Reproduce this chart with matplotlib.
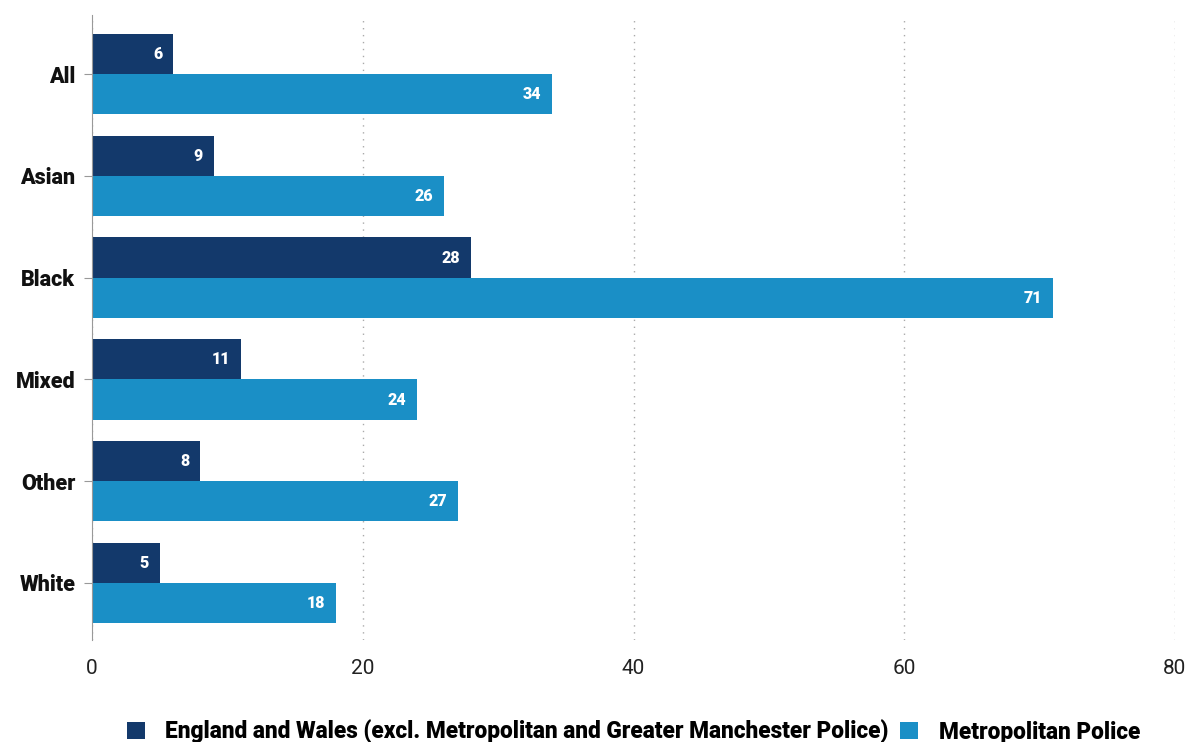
import matplotlib.pyplot as plt
import numpy as np

categories = ["All", "Asian", "Black", "Mixed", "Other", "White"]
england_wales = [6, 9, 28, 11, 8, 5]
met_police = [34, 26, 71, 24, 27, 18]
series_names = [
    "England and Wales (excl. Metropolitan and Greater Manchester Police)",
    "Metropolitan Police",
]
x_ticks = [0, 20, 40, 60, 80]

DARK = "#13396B"
LIGHT = "#1A8FC6"


def main():
    plt.rcParams["font.family"] = ["Roboto", "DejaVu Sans"]

    fig = plt.figure(figsize=(11.89, 7.42), dpi=100)
    ax = fig.add_axes([92 / 1189, 1 - 640 / 742, (1175 - 92) / 1189, (640 - 15) / 742])

    y = np.arange(len(categories))
    h = 0.395
    b1 = ax.barh(y - h / 2, england_wales, height=h, color=DARK, label=series_names[0])
    b2 = ax.barh(y + h / 2, met_police, height=h, color=LIGHT, label=series_names[1])

    # value labels inside bar ends
    for bars in (b1, b2):
        for rect in bars:
            w = rect.get_width()
            ax.text(w - 0.8, rect.get_y() + rect.get_height() / 2, f"{w:g}",
                    ha="right", va="center", color="white", fontsize=11.5,
                    fontweight="heavy")

    ax.set_xlim(0, 80)
    ax.set_ylim(5.56, -0.58)
    ax.set_xticks(x_ticks)
    ax.set_xticklabels([str(t) for t in x_ticks], fontsize=15, color="#222222")
    ax.set_yticks(y)
    ax.set_yticklabels(categories, fontsize=15.5, fontweight="heavy", color="#111111")

    ax.xaxis.grid(True, linestyle=(0, (1, 4)), color="#aaaaaa", linewidth=1.0)
    ax.set_axisbelow(True)
    for s in ("top", "right", "bottom"):
        ax.spines[s].set_visible(False)
    ax.spines["left"].set_color("#999999")
    ax.tick_params(axis="x", length=0, pad=14)
    ax.tick_params(axis="y", length=6, color="#999999", pad=6)

    ax.legend(loc="upper center", bbox_to_anchor=(0.5, -0.095), ncol=2, frameon=False,
              prop={"weight": "heavy", "size": 16.3}, handlelength=0.8, handleheight=0.8,
              handletextpad=0.9, columnspacing=0.5)

    fig.savefig("out.png", dpi=100)


if __name__ == "__main__":
    main()
